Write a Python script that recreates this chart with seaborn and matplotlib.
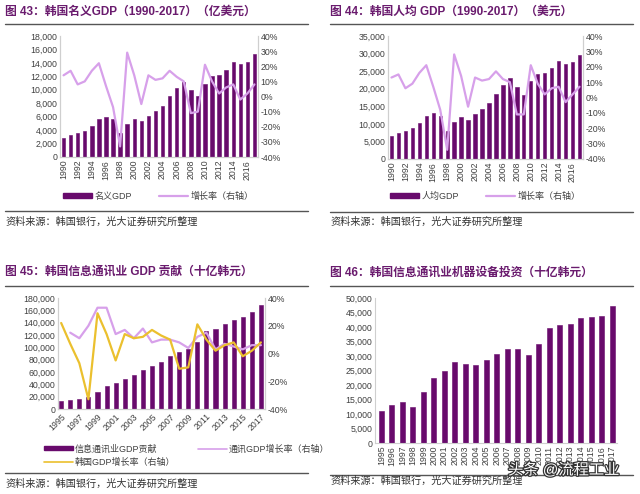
import numpy as np
import pandas as pd
import seaborn as sns
import matplotlib.pyplot as plt
from matplotlib.lines import Line2D
from matplotlib.patches import Patch
from matplotlib.ticker import FuncFormatter
import matplotlib.patheffects as pe

# ---- data ----
years_a = list(range(1990, 2018))
nominal_gdp = [2800, 3300, 3500, 3900, 4600, 5600, 6000, 5600, 3600, 4900,
               5600, 5300, 6100, 6800, 7600, 9000, 10200, 11200, 10000, 9000,
               10900, 12000, 12200, 13000, 14100, 13800, 14100, 15300]
nominal_growth = [14, 17, 8, 10, 17, 22, 7, -7, -33, 29,
                  14, -5, 14, 11, 12, 17, 13, 10, -11, -10,
                  21, 10, 2, 6, 8, -2, 2, 8]
per_capita_gdp = [6500, 7500, 8000, 8700, 10200, 12300, 13100, 12100, 8100, 10400,
                  11900, 11200, 12800, 14200, 15900, 18600, 21000, 23100, 20500, 18300,
                  22100, 24200, 24600, 26000, 27800, 27100, 27600, 29700]
per_capita_growth = [13, 15, 6, 9, 16, 21, 7, -8, -34, 28,
                     14, -6, 13, 11, 12, 17, 12, 10, -11, -11,
                     21, 9, 2, 6, 7, -3, 2, 7]

years_b = list(range(1995, 2018))
ict_gdp = [13000, 15000, 17000, 19000, 27000, 37000, 42000, 48000, 55000, 64000,
           70000, 77000, 86000, 93000, 97000, 109000, 126000, 129000, 138000, 145000,
           149000, 158000, 168000]
ict_growth_years = list(range(1996, 2018))
ict_growth = [15, 11, 20, 33, 33, 14, 17, 11, 18, 8,
              10, 10, 8, 4, 12, 15, 3, 7, 5, 3, 6, 6]
korea_growth = [22, 7, -7, -33, 29, 14, -5, 14, 11, 12,
                17, 13, 10, -11, -10, 21, 10, 2, 6, 8, -2, 2, 8]
ict_equipment = [11000, 13000, 14000, 12500, 17500, 22500, 24800, 27800, 27400, 26900,
                 28700, 30700, 32500, 32500, 30300, 34000, 39500, 40700, 41100, 43100,
                 43500, 43800, 47300]

BAR = '#680A6C'
LINE = '#D7A0EA'
YELLOW = '#EBC02E'
TITLE = '#6A1B6E'
GRID = '#CFCFCF'
TXT = '#404040'

sns.set_style('white')
plt.rcParams['font.family'] = ['Liberation Sans', 'Noto Sans CJK SC', 'DejaVu Sans']

fig = plt.figure(figsize=(6.4, 4.94), dpi=100)
W, H = 640, 494


def rect(x0, y0, x1, y1):
    return [x0 / W, 1 - y1 / H, (x1 - x0) / W, (y1 - y0) / H]


def rule(x0, x1, y, lw=1.0):
    fig.add_artist(Line2D([x0 / W, x1 / W], [1 - y / H, 1 - y / H],
                          color='#555555', lw=lw, transform=fig.transFigure))


def header(x, y, num, text):
    fig.text(x / W, 1 - y / H, f'图 {num}：{text}', color=TITLE, fontsize=8.5,
             fontweight='bold', va='center', ha='left')


def source(x, y):
    fig.text(x / W, 1 - y / H, '资料来源：韩国银行，光大证券研究所整理',
             color='#333333', fontsize=7.3, va='center', ha='left')


thousands = FuncFormatter(lambda v, _: f'{v:,.0f}')
percent = FuncFormatter(lambda v, _: f'{v:.0f}%')


def style_axes(ax, right=True):
    for s in ['left', 'bottom', 'right']:
        ax.spines[s].set_color(GRID)
        ax.spines[s].set_linewidth(0.8)
    ax.spines['top'].set_visible(False)
    if not right:
        ax.spines['right'].set_visible(False)
    ax.tick_params(axis='both', length=0, labelsize=6.3, labelcolor=TXT, pad=2)
    ax.set_xlabel('')
    ax.set_ylabel('')


def bars(ax, years, vals, width):
    sns.barplot(x=years, y=vals, native_scale=True, width=width, color=BAR,
                saturation=1, errorbar=None, edgecolor=BAR, linewidth=0.4, ax=ax)


def bar_line_panel(r, years, vals, growth, ymax, ystep):
    ax = fig.add_axes(r)
    bars(ax, years, vals, 0.48)
    ax2 = ax.twinx()
    sns.lineplot(x=years, y=growth, color=LINE, lw=1.6, ax=ax2)
    ax.set_xlim(years[0] - 0.5, years[-1] + 0.5)
    ax.set_ylim(0, ymax)
    ax.set_yticks(np.arange(0, ymax + 1, ystep))
    ax.yaxis.set_major_formatter(thousands)
    ax2.set_ylim(-40, 40)
    ax2.set_yticks(np.arange(-40, 41, 10))
    ax2.yaxis.set_major_formatter(percent)
    ax.set_xticks(years[::2])
    ax.set_xticklabels([str(y) for y in years[::2]], rotation=90)
    style_axes(ax)
    style_axes(ax2)
    handles = [Patch(color=BAR), Line2D([], [], color=LINE, lw=1.6)]
    return ax, ax2, handles


# ---- figure 43 ----
header(5, 12, '43', '韩国名义GDP（1990-2017）（亿美元）')
rule(5, 308, 24)
ax, ax2, hs = bar_line_panel(rect(60, 36, 258, 157), years_a, nominal_gdp,
                             nominal_growth, 18000, 2000)
fig.legend(hs, ['名义GDP', '增长率（右轴）'], loc='center', ncol=2, frameon=False,
           bbox_to_anchor=(158 / W, 1 - 196 / H), fontsize=6.5, handlelength=3.2,
           handleheight=0.4, columnspacing=3, labelcolor=TXT, handletextpad=0.3)
rule(5, 308, 211)
source(5, 222)

# ---- figure 44 ----
header(330, 12, '44', '韩国人均 GDP（1990-2017）（美元）')
rule(330, 633, 24)
ax, ax2, hs = bar_line_panel(rect(388, 36, 583, 159), years_a, per_capita_gdp,
                             per_capita_growth, 35000, 5000)
fig.legend(hs, ['人均GDP', '增长率（右轴）'], loc='center', ncol=2, frameon=False,
           bbox_to_anchor=(485 / W, 1 - 196 / H), fontsize=6.5, handlelength=3.2,
           handleheight=0.4, columnspacing=3, labelcolor=TXT, handletextpad=0.3)
rule(330, 633, 212)
source(330, 222)

# ---- figure 45 ----
header(5, 272, '45', '韩国信息通讯业 GDP 贡献（十亿韩元）')
rule(5, 308, 286)
ax = fig.add_axes(rect(58, 298, 265, 409))
bars(ax, years_b, ict_gdp, 0.45)
ax2 = ax.twinx()
sns.lineplot(x=ict_growth_years, y=ict_growth, color=LINE, lw=1.6, ax=ax2)
sns.lineplot(x=years_b, y=korea_growth, color=YELLOW, lw=1.6, ax=ax2)
ax.set_xlim(years_b[0] - 0.35, years_b[-1] + 0.45)
ax.set_ylim(0, 180000)
ax.set_yticks(np.arange(0, 180001, 20000))
ax.yaxis.set_major_formatter(thousands)
ax2.set_ylim(-40, 40)
ax2.set_yticks(np.arange(-40, 41, 20))
ax2.yaxis.set_major_formatter(percent)
ax.set_xticks(years_b[::2])
ax.set_xticklabels([str(y) for y in years_b[::2]], rotation=45, ha='right',
                   rotation_mode='anchor')
style_axes(ax)
style_axes(ax2)
hs = [Patch(color=BAR), Line2D([], [], color=YELLOW, lw=1.2),
      Line2D([], [], color=LINE, lw=1.2)]
fig.legend(hs, ['信息通讯业GDP贡献', '韩国GDP增长率（右轴）', '通讯GDP增长率（右轴）'],
           loc='upper left', ncol=2, frameon=False,
           bbox_to_anchor=(36 / W, 1 - 436 / H), fontsize=6.5, handlelength=3.2,
           handleheight=0.4, columnspacing=2.5, labelcolor=TXT, handletextpad=0.2,
           labelspacing=0.45)
rule(5, 308, 473)
source(5, 484)

# ---- figure 46 ----
header(330, 273, '46', '韩国信息通讯业机器设备投资（十亿韩元）')
rule(330, 633, 286)
ax = fig.add_axes(rect(375, 298, 617, 443))
bars(ax, years_b, ict_equipment, 0.45)
ax.set_xlim(years_b[0] - 0.6, years_b[-1] + 0.45)
ax.set_ylim(0, 50000)
ax.set_yticks(np.arange(0, 50001, 5000))
ax.yaxis.set_major_formatter(thousands)
ax.set_xticks(years_b)
ax.set_xticklabels([str(y) for y in years_b], rotation=90)
style_axes(ax, right=False)
rule(330, 633, 475)
source(330, 481)

fig.text(508 / W, 1 - 470 / H, '头条 @流程工业', color='white', fontsize=11,
         va='center', ha='left',
         path_effects=[pe.withStroke(linewidth=1.8, foreground='#333333')])

fig.savefig('out.png', dpi=100, facecolor='white')
